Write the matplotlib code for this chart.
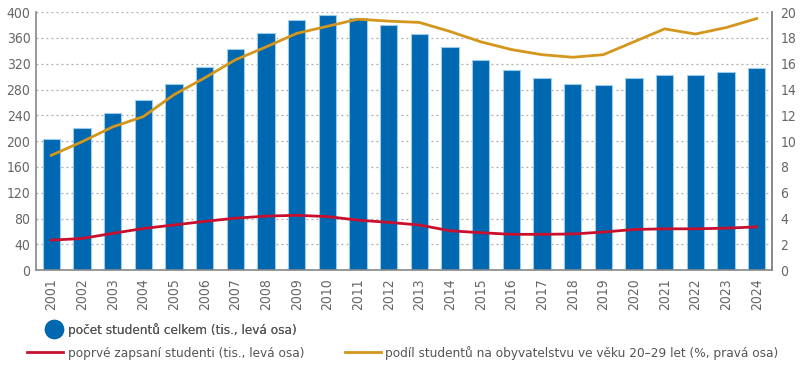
import matplotlib
matplotlib.use("Agg")
import matplotlib.pyplot as plt
from matplotlib.lines import Line2D
import numpy as np

years = [str(y) for y in range(2001, 2025)]
students_total = [203, 220, 243, 264, 288, 315, 343, 367, 388, 395, 391, 380,
                  366, 346, 325, 310, 298, 289, 287, 298, 302, 303, 307, 314]
first_enrolled = [46.5, 49, 57, 64.5, 70, 75.5, 80.5, 83.7, 85, 83, 77.5, 74,
                  70, 61, 58, 55.5, 55.5, 56, 59, 63, 64, 64, 65, 67]
share_20_29 = [8.9, 9.95, 11.1, 11.9, 13.6, 14.9, 16.3, 17.3, 18.35, 18.9, 19.45, 19.3,
               19.2, 18.5, 17.7, 17.1, 16.7, 16.5, 16.7, 17.7, 18.7, 18.3, 18.8, 19.5]
left_ticks = list(range(0, 401, 40))
right_ticks = list(range(0, 21, 2))

labels = ["počet studentů celkem (tis., levá osa)",
          "poprvé zapsaní studenti (tis., levá osa)",
          "podíl studentů na obyvatelstvu ve věku 20–29 let (%, pravá osa)"]

BLUE = "#0067B1"
RED = "#C8102E"
ORANGE = "#D4961C"
GRAY = "#666666"
plt.rcParams['font.family'] = ["DejaVu Sans"]
plt.rcParams['font.stretch'] = 'condensed'

fig = plt.figure(figsize=(8, 3.67), dpi=100)
ax = fig.add_axes([0.045, 0.264, 0.92, 0.703])
x = np.arange(len(years))
ax.bar(x, students_total, width=0.56, color=BLUE, edgecolor="#9ccbec", linewidth=0.8, zorder=2)
ax.plot(x, first_enrolled, color=RED, lw=2, zorder=3)
ax.set_ylim(0, 400)
ax.set_xlim(-0.5, 23.5)
ax.set_yticks(left_ticks)
ax.set_xticks(x)
ax.set_xticklabels(years, rotation=90)
ax.grid(axis='y', linestyle=(0, (1.5, 2.5)), color="#aaaaaa", lw=0.9, zorder=0)
ax.tick_params(axis='both', length=0, labelsize=10, colors=GRAY, pad=4)
ax.tick_params(axis='x', pad=6)
ax.spines['top'].set_visible(False)
for s in ['left', 'bottom', 'right']:
    ax.spines[s].set_color("#888888")
    ax.spines[s].set_linewidth(1.2)

ax2 = ax.twinx()
ax2.plot(x, share_20_29, color=ORANGE, lw=2, zorder=3)
ax2.set_ylim(0, 20)
ax2.set_yticks(right_ticks)
ax2.tick_params(axis='y', length=0, labelsize=10, colors=GRAY, pad=6)
ax2.spines['top'].set_visible(False)
ax2.spines['right'].set_color("#888888")
ax2.spines['right'].set_linewidth(1.2)
ax2.spines['left'].set_visible(False)
ax2.spines['bottom'].set_visible(False)

LFS = 9.7
h1 = [Line2D([], [], marker='o', linestyle='none', color=BLUE, markersize=13)]
leg1 = fig.legend(h1, [labels[0]], loc='center left', bbox_to_anchor=(0.059, 0.101),
                  frameon=False, fontsize=LFS, handletextpad=0.53, borderpad=0,
                  borderaxespad=0, handlelength=1.0, labelcolor="#555555")
h2 = [Line2D([], [], color=RED, lw=2), Line2D([], [], color=ORANGE, lw=2)]
leg2 = fig.legend(h2, labels[1:], loc='center left', bbox_to_anchor=(0.034, 0.038),
                  ncol=2, frameon=False, fontsize=LFS, handlelength=2.67,
                  handletextpad=0.37, columnspacing=2.96, borderpad=0,
                  borderaxespad=0, labelcolor="#555555")
fig.add_artist(leg1)

fig.savefig("out.png", dpi=100)
